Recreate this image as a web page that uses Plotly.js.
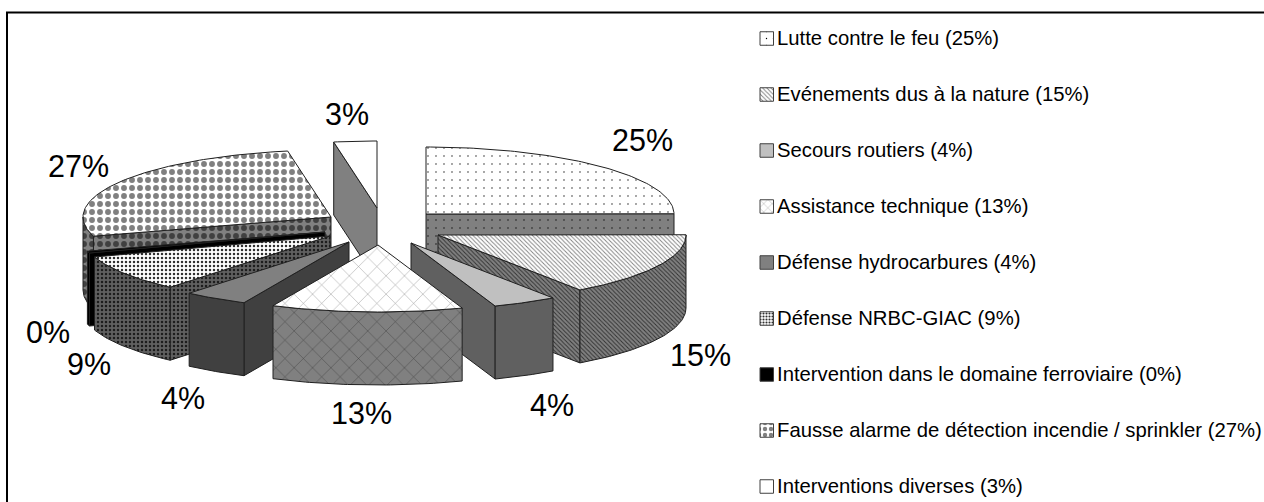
<!DOCTYPE html>
<html><head><meta charset="utf-8">
<script src="https://cdn.plot.ly/plotly-3.0.1.min.js"></script>
<style>html,body{margin:0;padding:0;background:#fff;overflow:hidden}#c{width:1264px;height:502px}</style>
</head><body><div id="c"></div>
<script>
// ---- data ----
const categories = ["Lutte contre le feu","Evénements dus à la nature","Secours routiers","Assistance technique","Défense hydrocarbures","Défense NRBC-GIAC","Intervention dans le domaine ferroviaire","Fausse alarme de détection incendie / sprinkler","Interventions diverses"];
const values = [25,15.4,4.2,12.5,4.2,8.8,0.45,26.9,2.8];
const legendPct = ["25%","15%","4%","13%","4%","9%","0%","27%","3%"];

// ---- geometry of the exploded 3-D pie (pixels) ----
const apexX = [426,438,411,378,349,330,325,331,377];
const apexY = [214,235,243,245,242,236,232,217,208];
const RX = 248, RY = 67, DEPTH = 73;
const labelX = [642,700,552,361,183,89,48,78,347];
const labelY = [140,355,405,413,398,364,332,166,114];
const drawOrder = [7,0,8,6,5,4,1,2,3];

// ---- styles ----
const topBg  = ["#ffffff","#ffffff","#c0c0c0","#ffffff","#808080","#ffffff","#000000","#ffffff","#ffffff"];
const topFg  = ["#000000","#808080","#c0c0c0","#909090","#808080","#303030","#000000","#808080","#ffffff"];
const sideBg = ["#808080","#808080","#606060","#808080","#404040","#606060","#000000","#808080","#808080"];
const sideFg = ["#000000","#303030","#606060","#404040","#404040","#1c1c1c","#000000","#404040","#808080"];
const shape  = [".","\\","","x","",".","",".",""];
const psize  = [8,3,0,13,0,4,0,8,0];
const solid  = [0.02,0.3,0,0.07,0,0.3,0,0.42,0];
const outline = "#202020";

const total = values.reduce((a,b)=>a+b,0);
const rad = d => d*Math.PI/180;
const traces = [];

function px(i,a){return apexX[i]+RX*Math.sin(rad(a));}
function py(i,a){return apexY[i]-RY*Math.cos(rad(a));}
function arc(a,b){const o=[];const n=Math.max(2,Math.ceil(Math.abs(b-a)));for(let k=0;k<=n;k++)o.push(a+(b-a)*k/n);return o;}

function poly(xs,ys,i,top){
  const bg = top?topBg[i]:sideBg[i], fg = top?topFg[i]:sideFg[i];
  const t = {type:"scatter",mode:"lines",x:xs.concat(xs[0]),y:ys.concat(ys[0]),fill:"toself",fillcolor:bg,
    line:{color:outline,width:1},hoverinfo:"skip",showlegend:false,name:categories[i]};
  if(shape[i]) t.fillpattern={shape:shape[i],size:psize[i],solidity:solid[i],bgcolor:bg,fgcolor:fg,fgopacity:1,fillmode:"replace"};
  traces.push(t);
}

// start / end angle of each slice, clockwise from 12 o'clock
const startA=[],endA=[];let acc=0;
values.forEach((v,i)=>{startA[i]=acc;acc+=v/total*360;endA[i]=acc;});

drawOrder.forEach(i=>{
  const a=startA[i],b=endA[i];
  const face=(ang)=>{
    const x0=apexX[i],y0=apexY[i],x1=px(i,ang),y1=py(i,ang);
    poly([x0,x1,x1,x0],[y0,y1,y1+DEPTH,y0+DEPTH],i,false);
  };
  if(Math.sin(rad(a))<0) face(a);
  if(Math.sin(rad(b))>0) face(b);
  const wa=Math.max(a,90),wb=Math.min(b,270);
  if(wb>wa){
    const ang=arc(wa,wb);
    const xs=ang.map(t=>px(i,t)),ys=ang.map(t=>py(i,t));
    poly(xs.concat(xs.slice().reverse()),ys.concat(ys.slice().reverse().map(y=>y+DEPTH)),i,false);
  }
  const ang=arc(a,b);
  poly([apexX[i]].concat(ang.map(t=>px(i,t))),[apexY[i]].concat(ang.map(t=>py(i,t))),i,true);
});

// ---- legend swatches and text ----
const LEG_X=760, LEG_Y0=38.5, LEG_DY=56, SW=13.5;
const swSize=[7,3,0,6,0,3,0,6,0], swSolid=[0.03,0.3,0,0.12,0,0.4,0,0.42,0];
const annotations=[];
categories.forEach((c,i)=>{
  const y=LEG_Y0+i*LEG_DY;
  const bg=i===4?"#808080":topBg[i], fg=i===4?"#808080":topFg[i];
  const t={type:"scatter",mode:"lines",x:[LEG_X,LEG_X+SW,LEG_X+SW,LEG_X,LEG_X],y:[y-SW/2,y-SW/2,y+SW/2,y+SW/2,y-SW/2],
    fill:"toself",fillcolor:bg,line:{color:"#404040",width:1},hoverinfo:"skip",showlegend:false,name:c};
  if(shape[i]) t.fillpattern={shape:shape[i],size:swSize[i],solidity:swSolid[i],bgcolor:bg,fgcolor:fg,fgopacity:1,fillmode:"replace"};
  traces.push(t);
  annotations.push({xref:"x",yref:"y",x:775,y:y-0.5,xanchor:"left",yanchor:"middle",showarrow:false,
    text:c+" ("+legendPct[i]+")",font:{family:"Liberation Sans, Arial, sans-serif",size:20.3,color:"#000"}});
  annotations.push({xref:"x",yref:"y",x:labelX[i],y:labelY[i],xanchor:"center",yanchor:"middle",showarrow:false,
    text:legendPct[i],font:{family:"Liberation Sans, Arial, sans-serif",size:30.5,color:"#000"}});
});

const layout={
  width:1264,height:502,margin:{l:0,r:0,t:0,b:0,pad:0},showlegend:false,
  paper_bgcolor:"#fff",plot_bgcolor:"#fff",
  xaxis:{range:[0,1264],visible:false,fixedrange:true},
  yaxis:{range:[502,0],visible:false,fixedrange:true},
  annotations,
  shapes:[
    {type:"line",xref:"x",yref:"y",x0:6,x1:1264,y0:12.5,y1:12.5,line:{color:"#000",width:2}},
    {type:"line",xref:"x",yref:"y",x0:7,x1:7,y0:12,y1:502,line:{color:"#000",width:2}}
  ]
};
Plotly.newPlot("c",traces,layout,{displayModeBar:false,staticPlot:true});
</script></body></html>
